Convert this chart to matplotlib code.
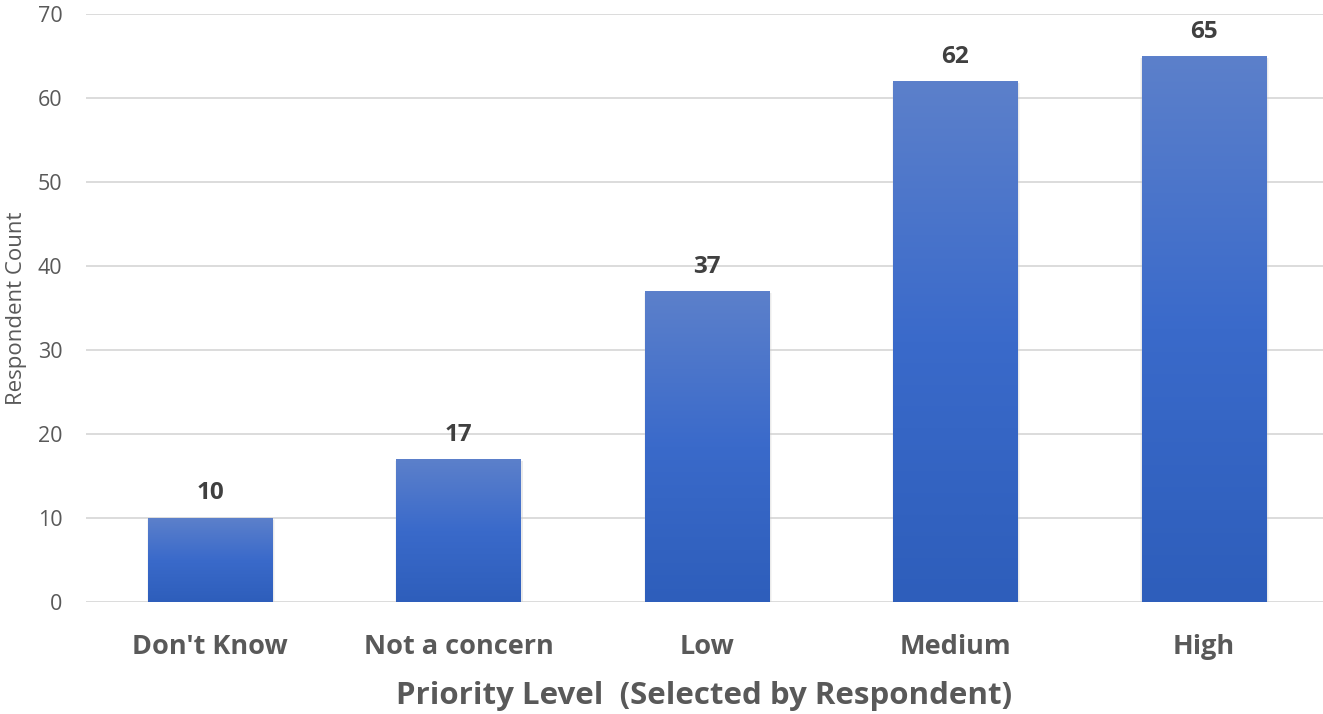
import numpy as np
import matplotlib
matplotlib.use("Agg")
import matplotlib.pyplot as plt
from matplotlib.colors import LinearSegmentedColormap

categories = ["Don't Know", "Not a concern", "Low", "Medium", "High"]
counts = [10, 17, 37, 62, 65]
yticks = [0, 10, 20, 30, 40, 50, 60, 70]

plt.rcParams['font.family'] = ['Open Sans', 'DejaVu Sans']

fig = plt.figure(figsize=(13.23, 7.14), dpi=100)
ax = fig.add_axes([0.065, 0.157, 0.935, 0.823])

x = np.arange(len(categories))
bars = ax.bar(x, counts, width=0.5, color='none', edgecolor='none', zorder=3)

# vertical gradient fill, lighter at top
cmap = LinearSegmentedColormap.from_list('blu', ['#2E5EBB', '#3A6ACA', '#5C80CB'])
grad = np.linspace(0, 1, 256).reshape(-1, 1)
for b in bars:
    x0, y0 = b.get_x(), b.get_y()
    w, h = b.get_width(), b.get_height()
    # soft shadow around the bar
    for k, a in [(0.016, 0.15), (0.009, 0.25)]:
        ax.bar(x0 + w / 2 + 0.003, h + k * 8, width=w + k, bottom=-0.3,
               color='#c8c8c8', alpha=a, zorder=2, edgecolor='none')
    im = ax.imshow(grad, cmap=cmap, aspect='auto', origin='lower',
                   extent=[x0, x0 + w, y0, y0 + h], zorder=3)
    im.set_clip_path(b)
    ax.text(x0 + w / 2, h + 1.5, str(int(h)), ha='center', va='bottom',
            fontsize=17.5, fontweight='bold', color='#404040', zorder=4)

ax.set_xlim(-0.5, 4.48)
ax.set_ylim(0, 70)
ax.set_yticks(yticks)
ax.set_xticks(x)
ax.set_xticklabels(categories, fontsize=19.5, fontweight='bold', color='#595959')
ax.tick_params(axis='x', length=0, pad=23)
ax.tick_params(axis='y', length=0, pad=17, labelsize=15.5, labelcolor='#595959')
ax.yaxis.grid(True, color='#d9d9d9', linewidth=1.3, zorder=0)
ax.set_axisbelow(True)
for s in ax.spines.values():
    s.set_visible(False)

ax.set_ylabel('Respondent Count', fontsize=16, color='#595959', labelpad=8)
ax.set_xlabel('Priority Level  (Selected by Respondent)', fontsize=22.5,
              fontweight='bold', color='#595959', labelpad=15)

fig.savefig('out.png', dpi=100)
